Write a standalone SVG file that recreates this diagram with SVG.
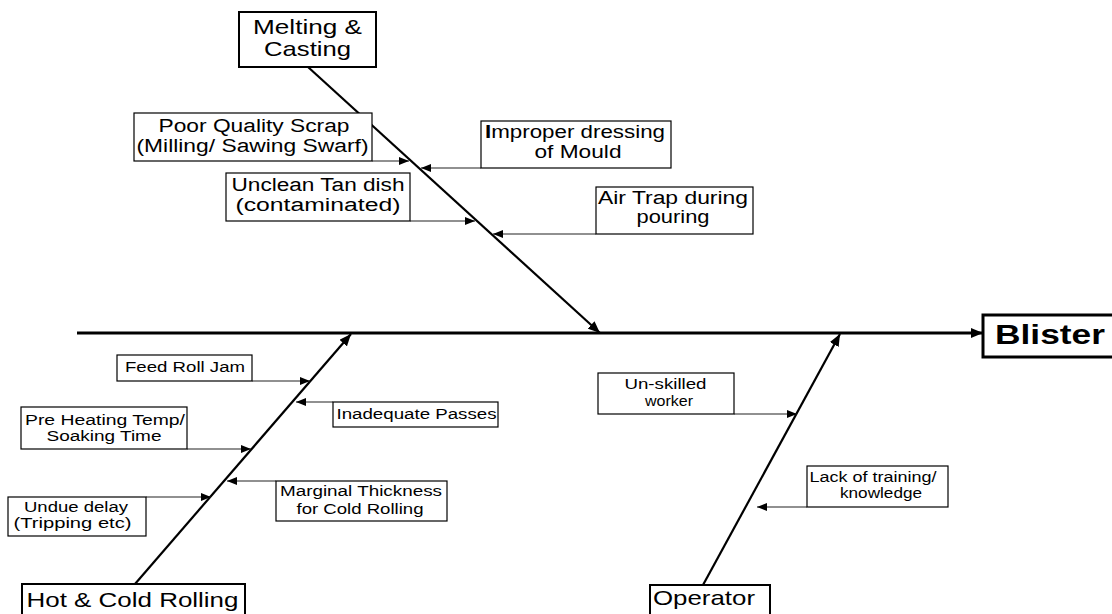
<svg xmlns="http://www.w3.org/2000/svg" width="1112" height="614" viewBox="0 0 1112 614">
  <style>
    .box { fill: #fff; stroke: #000; stroke-width: 1.2; }
    .cat { fill: #fff; stroke: #000; stroke-width: 2; }
    .t { font-family: "Liberation Sans", Arial, sans-serif; fill: #000; text-anchor: middle; }
    .m { font-size: 18px; }
    .s { font-size: 14px; }
    .c { font-size: 21px; }
    .cause { stroke: #222; stroke-width: 1.2; fill: none; marker-end: url(#tip); }
    .bone { stroke: #000; stroke-width: 2.2; fill: none; marker-end: url(#bigtip); }
  </style>
  <defs>
    <marker id="tip" markerUnits="userSpaceOnUse" markerWidth="12" markerHeight="8" refX="10" refY="4" orient="auto">
      <path d="M0,0 L10,4 L0,8 Z" fill="#000"/>
    </marker>
    <marker id="bigtip" markerUnits="userSpaceOnUse" markerWidth="14" markerHeight="10" refX="12" refY="5" orient="auto">
      <path d="M0,0 L12,5 L0,10 Z" fill="#000"/>
    </marker>
  </defs>

  <rect width="1112" height="614" fill="#fff"/>

  <!-- connectors: spine, category bones and cause arrows -->
  <g id="connectors">
    <line x1="77" y1="333" x2="983" y2="333" stroke="#000" stroke-width="3" marker-end="url(#bigtip)"/>
    <line class="bone" x1="308" y1="67" x2="600" y2="333"/>
    <line class="bone" x1="135" y1="584" x2="351" y2="334"/>
    <line class="bone" x1="703" y1="585" x2="840" y2="334"/>

    <line class="cause" x1="372" y1="161" x2="409" y2="161"/>
    <line class="cause" x1="481" y1="168" x2="421" y2="168"/>
    <line class="cause" x1="410" y1="221" x2="475" y2="221"/>
    <line class="cause" x1="596" y1="234" x2="493" y2="234"/>

    <line class="cause" x1="252" y1="381" x2="310" y2="381"/>
    <line class="cause" x1="333" y1="402" x2="296" y2="402"/>
    <line class="cause" x1="187" y1="449" x2="251" y2="449"/>
    <line class="cause" x1="276" y1="481" x2="227" y2="481"/>
    <line class="cause" x1="146" y1="497" x2="211" y2="497"/>

    <line class="cause" x1="734" y1="414" x2="797" y2="414"/>
    <line class="cause" x1="807" y1="507" x2="757" y2="507"/>
  </g>

  <!-- effect -->
  <g id="blister">
    <rect x="983" y="315" width="134" height="42" fill="#fff" stroke="#000" stroke-width="3"/>
    <text x="995" y="344" font-family="Liberation Sans, Arial, sans-serif" font-size="28" font-weight="bold" textLength="110" lengthAdjust="spacingAndGlyphs">Blister</text>
  </g>

  <!-- categories -->
  <g id="melting-casting">
    <rect class="cat" x="239" y="12" width="137" height="55"/>
    <text class="t c" x="307.5" y="34" textLength="109" lengthAdjust="spacingAndGlyphs">Melting &amp;</text>
    <text class="t c" x="307.5" y="56" textLength="87" lengthAdjust="spacingAndGlyphs">Casting</text>
  </g>
  <g id="hot-cold-rolling">
    <rect class="cat" x="22" y="584" width="223" height="40"/>
    <text class="t c" x="132.5" y="607" textLength="212" lengthAdjust="spacingAndGlyphs">Hot &amp; Cold Rolling</text>
  </g>
  <g id="operator">
    <rect class="cat" x="650" y="585" width="120" height="40"/>
    <text class="t c" x="704" y="605" textLength="102" lengthAdjust="spacingAndGlyphs">Operator</text>
  </g>

  <!-- melting & casting causes -->
  <g id="poor-quality-scrap">
    <rect class="box" x="134" y="113" width="238" height="48"/>
    <text class="t m" x="254" y="131.5" textLength="191" lengthAdjust="spacingAndGlyphs">Poor Quality Scrap</text>
    <text class="t m" x="252.5" y="151.5" textLength="232" lengthAdjust="spacingAndGlyphs">(Milling/ Sawing Swarf)</text>
  </g>
  <g id="improper-dressing">
    <rect class="box" x="481" y="121" width="190" height="47"/>
    <text class="t m" x="575" y="138" textLength="180" lengthAdjust="spacingAndGlyphs"><tspan font-weight="bold">I</tspan>mproper dressing</text>
    <text class="t m" x="578" y="158" textLength="87" lengthAdjust="spacingAndGlyphs">of Mould</text>
  </g>
  <g id="unclean-tan-dish">
    <rect class="box" x="226" y="173" width="184" height="48"/>
    <text class="t m" x="318" y="191" textLength="173" lengthAdjust="spacingAndGlyphs">Unclean Tan dish</text>
    <text class="t m" x="318" y="211" textLength="165" lengthAdjust="spacingAndGlyphs">(contaminated)</text>
  </g>
  <g id="air-trap">
    <rect class="box" x="596" y="187" width="157" height="47"/>
    <text class="t m" x="673" y="204" textLength="150" lengthAdjust="spacingAndGlyphs">Air Trap during</text>
    <text class="t m" x="673" y="223" textLength="73" lengthAdjust="spacingAndGlyphs">pouring</text>
  </g>

  <!-- hot & cold rolling causes -->
  <g id="feed-roll-jam">
    <rect class="box" x="117" y="355" width="135" height="26"/>
    <text class="t s" x="185" y="372" textLength="120" lengthAdjust="spacingAndGlyphs">Feed Roll Jam</text>
  </g>
  <g id="inadequate-passes">
    <rect class="box" x="333" y="402" width="165" height="25"/>
    <text class="t s" x="416.5" y="419" textLength="160" lengthAdjust="spacingAndGlyphs">Inadequate Passes</text>
  </g>
  <g id="pre-heating">
    <rect class="box" x="21" y="407" width="166" height="42"/>
    <text class="t s" x="105" y="425" textLength="160" lengthAdjust="spacingAndGlyphs">Pre Heating Temp/</text>
    <text class="t s" x="104" y="441" textLength="115" lengthAdjust="spacingAndGlyphs">Soaking Time</text>
  </g>
  <g id="marginal-thickness">
    <rect class="box" x="276" y="481" width="171" height="40"/>
    <text class="t s" x="361" y="496" textLength="162" lengthAdjust="spacingAndGlyphs">Marginal Thickness</text>
    <text class="t s" x="360" y="514" textLength="127" lengthAdjust="spacingAndGlyphs">for Cold Rolling</text>
  </g>
  <g id="undue-delay">
    <rect class="box" x="8" y="497" width="138" height="39"/>
    <text class="t s" x="76" y="512" textLength="104" lengthAdjust="spacingAndGlyphs">Undue delay</text>
    <text class="t s" x="72.5" y="528" textLength="118" lengthAdjust="spacingAndGlyphs">(Tripping etc)</text>
  </g>

  <!-- operator causes -->
  <g id="unskilled-worker">
    <rect class="box" x="598" y="373" width="136" height="41"/>
    <text class="t s" x="665.5" y="389" textLength="82" lengthAdjust="spacingAndGlyphs">Un-skilled</text>
    <text class="t s" x="669" y="406" textLength="48" lengthAdjust="spacingAndGlyphs">worker</text>
  </g>
  <g id="lack-of-training">
    <rect class="box" x="807" y="466" width="141" height="41"/>
    <text class="t s" x="873" y="482" textLength="127" lengthAdjust="spacingAndGlyphs">Lack of training/</text>
    <text class="t s" x="881" y="498" textLength="82" lengthAdjust="spacingAndGlyphs">knowledge</text>
  </g>
</svg>
